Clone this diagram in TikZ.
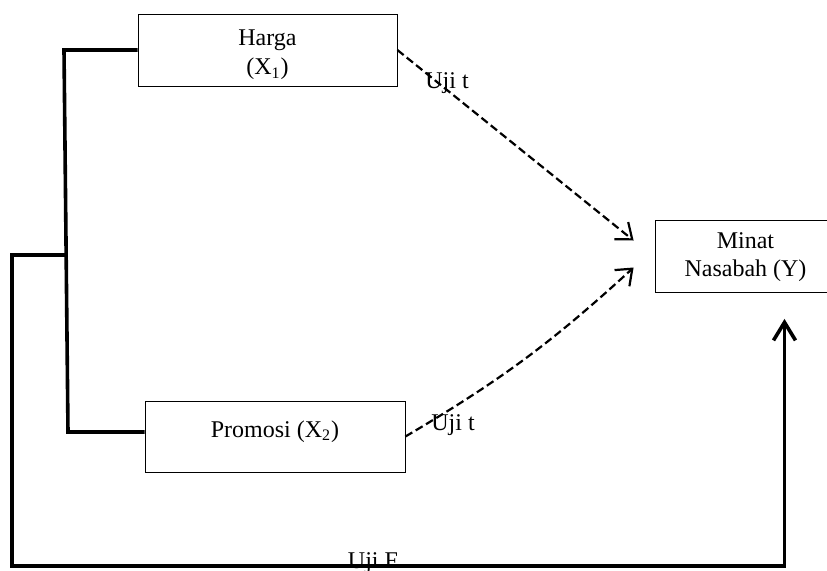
\documentclass[tikz,border=0pt]{standalone}
\usepackage{fontspec}
\setmainfont{Liberation Serif}
\usetikzlibrary{arrows.meta, positioning}

\begin{document}
\begin{tikzpicture}[
    x=0.5pt, y=-0.5pt,
    box/.style={draw, line width=0.4pt, inner sep=0},
    label/.style={
        align=center, inner sep=0,
        font=\fontsize{12}{14}\selectfont,
      },
    thickline/.style={line width=1.8pt},
    dasharrow/.style={
        line width=1.1pt, dash pattern=on 4pt off 2pt,
        -{Straight Barb[length=7pt, width=11pt, line width=1.1pt]},
      },
  ]
  \useasboundingbox (0,0) rectangle (827,570);
  \clip (0,0) rectangle (827,570);

  \node[box, minimum width=129.5pt, minimum height=36pt]
  (harga) at (267.5,50) {};
  \node[label, font=\fontsize{12}{14.5}\selectfont, yshift=-2.5pt]
  (hargatext) at (harga)
  {Harga\\(X\textsubscript{1})};

  \node[box, minimum width=130pt, minimum height=35.5pt]
  (promosi) at (275,436.5) {};
  \node[label, yshift=2.5pt]
  (promositext) at (promosi)
  {Promosi (X\textsubscript{2})};

  \node[box, minimum width=90.5pt, minimum height=36pt]
  (minat) at (745.5,256.5) {};
  \node[label, yshift=-0.5pt]
  (minattext) at (minat)
  {Minat\\Nasabah (Y)};

  \coordinate (fork) at (68,255);

  % variabel bebas
  \draw[thickline] (harga.west) -- (64,50) -- (68,432) -- (promosi.west |- 0,432);

  % uji t
  \draw[dasharrow] (harga.east) -- ([xshift=-10.5pt, yshift=8pt]minat.west);
  \draw[dasharrow] (promosi.east) to[bend right=6] ([xshift=-10.5pt, yshift=-5.5pt]minat.west);

  \node[label] (ujit1) at (447,83) {Uji t};
  \node[label] (ujit2) at (453,425) {Uji t};

  % uji F
  \draw[thickline, -{Straight Barb[length=9pt, width=11pt, line width=1.8pt]}]
  (fork) -| (12,566) -| ([xshift=19.5pt, yshift=-13pt]minat.south);

  \node[label, anchor=base] (ujif) at (373,568) {Uji F};
\end{tikzpicture}
\end{document}
